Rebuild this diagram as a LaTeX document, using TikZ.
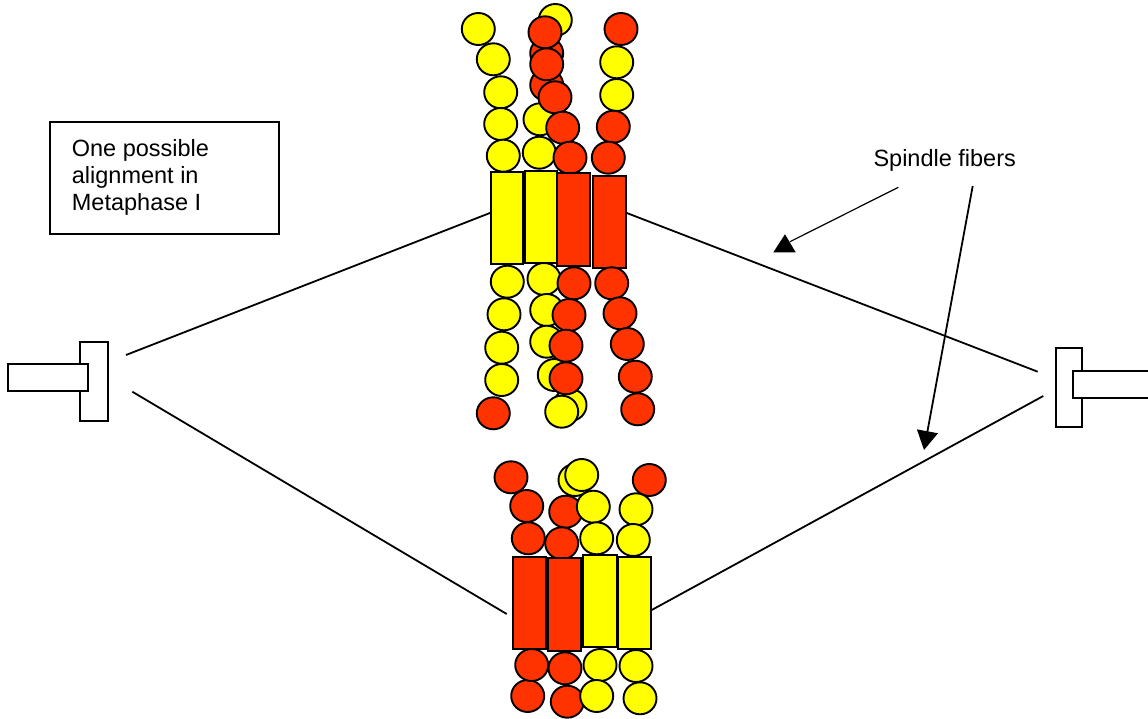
\documentclass[tikz,border=0pt]{standalone}
\usepackage{fontspec}
\setmainfont{Liberation Sans}
\usetikzlibrary{arrows.meta}
\definecolor{chromred}{HTML}{FF3300}
\definecolor{chromyellow}{HTML}{FFFF00}
\tikzset{
  bead/.style={draw=black, line width=1.9pt},
  arm/.style={draw=black, line width=1.9pt},
  fiber/.style={draw=black, line width=1.8pt},
  pole/.style={draw=black, fill=white, line width=1.8pt},
  pointer/.style={draw=black, line width=1.2pt},
  labeltext/.style={font=\fontsize{23.5}{26.8}\selectfont, inner sep=0pt, align=left}
}
% one bead of a chromatid: colour, x, y
\newcommand\beadat[3]{\path[bead, fill=#1] (#2,#3) ellipse [x radius=16.5pt, y radius=16pt];}
% one centromere block: colour, x1, y1, x2, y2
\newcommand\blockat[5]{\path[arm, fill=#1] (#2,#3) rectangle (#4,#5);}
\begin{document}
\begin{tikzpicture}[x=1pt, y=-1pt]
\useasboundingbox (0,0) rectangle (1148,719);
\fill[white] (0,0) rectangle (1148,719);

% label box (the node is anchored on the baseline of its last line)
\draw[line width=1.8pt] (50,121.7) rectangle (279.3,234);
\node[labeltext, anchor=base west] (caption) at (71.7,210.3)
  {One possible\\alignment in\\Metaphase I};

% spindle poles
\draw[pole] (80,341.7) rectangle (107.7,420.7);
\draw[pole] (8.3,364) rectangle (87.7,391);
\draw[pole] (1055.7,347.7) rectangle (1082.3,427.3);
\draw[pole] (1072.7,370.7) rectangle (1160,397.7);

% fiber end points
\coordinate (lpTop) at (126,355);
\coordinate (lpBot) at (132.3,391.7);
\coordinate (rpTop) at (1037.7,371.7);
\coordinate (rpBot) at (1043.3,396);
\coordinate (topL) at (490.7,212.7);
\coordinate (topR) at (626,212.7);
\coordinate (botL) at (506.7,614);
\coordinate (botR) at (651.7,610);

% spindle fibers
\draw[fiber] (lpTop) -- (topL);
\draw[fiber] (lpBot) -- (botL);
\draw[fiber] (topR) -- (rpTop);
\draw[fiber] (botR) -- (rpBot);

% upper pair of homologues: beads above the centromeres
\beadat{chromyellow}{478.3}{29}
\beadat{chromyellow}{493.3}{59.3}
\beadat{chromyellow}{500.7}{92.3}
\beadat{chromyellow}{500.7}{124}
\beadat{chromyellow}{503.3}{155.7}
\beadat{chromyellow}{555.3}{20}
\beadat{chromyellow}{540}{119.3}
\beadat{chromyellow}{539.3}{152.7}
\beadat{chromred}{546.7}{85}
\beadat{chromred}{546.7}{53.3}
\beadat{chromred}{545}{32.3}
\beadat{chromred}{546.7}{64.3}
\beadat{chromred}{555}{97.3}
\beadat{chromred}{562.7}{127.7}
\beadat{chromred}{570}{157.7}
\beadat{chromred}{621}{29}
\beadat{chromyellow}{616.7}{62.3}
\beadat{chromyellow}{616.7}{95}
\beadat{chromred}{613.3}{126.7}
\beadat{chromred}{608.3}{157.7}

% upper centromeres
\blockat{chromyellow}{490.7}{172.3}{523.3}{264}
\blockat{chromyellow}{525}{171}{557.3}{262.7}
\blockat{chromred}{557.3}{173.3}{590}{265.7}
\blockat{chromred}{592.7}{176}{625.7}{268.3}

% upper pair: beads below the centromeres
\beadat{chromyellow}{507.3}{281.7}
\beadat{chromyellow}{504}{314.3}
\beadat{chromyellow}{501.7}{347.7}
\beadat{chromyellow}{501.7}{380}
\beadat{chromred}{493.3}{413.3}
\beadat{chromyellow}{544}{279}
\beadat{chromyellow}{546.7}{310}
\beadat{chromyellow}{546.7}{341.7}
\beadat{chromyellow}{554.3}{375}
\beadat{chromyellow}{570}{405}
\beadat{chromyellow}{561.7}{411.7}
\beadat{chromred}{574}{283.3}
\beadat{chromred}{569}{315}
\beadat{chromred}{566}{345.7}
\beadat{chromred}{566}{378.3}
\beadat{chromred}{611.7}{283.3}
\beadat{chromred}{620}{313.3}
\beadat{chromred}{627.3}{344}
\beadat{chromred}{635.3}{376.7}
\beadat{chromred}{637.7}{409.3}

% lower pair of homologues: beads above the centromeres
\beadat{chromred}{511}{477.3}
\beadat{chromyellow}{575}{480}
\beadat{chromyellow}{581.7}{475}
\beadat{chromred}{649.3}{480}
\beadat{chromred}{526.7}{506}
\beadat{chromred}{565.7}{511.7}
\beadat{chromyellow}{593.3}{506.7}
\beadat{chromyellow}{636}{509.3}
\beadat{chromred}{528.3}{538.3}
\beadat{chromred}{561.7}{543.3}
\beadat{chromyellow}{596.7}{538.3}
\beadat{chromyellow}{633.3}{540}

% lower centromeres
\blockat{chromred}{512.7}{556.7}{546}{649.3}
\blockat{chromred}{548.3}{558.3}{581}{651}
\blockat{chromyellow}{582.7}{555}{616.7}{646.7}
\blockat{chromyellow}{617.7}{556.7}{651}{649.3}

% lower pair: beads below the centromeres
\beadat{chromred}{527.7}{696}
\beadat{chromred}{531.7}{665}
\beadat{chromred}{567.3}{701.7}
\beadat{chromred}{565}{668.3}
\beadat{chromyellow}{600}{665}
\beadat{chromyellow}{596.7}{696}
\beadat{chromyellow}{636}{666}
\beadat{chromyellow}{640}{698.3}

% spindle fiber label and its pointers
\node[labeltext, anchor=base west] (spindle) at (873.3,166.7) {Spindle fibers};
\coordinate (ptrA) at (898.3,187.3);
\coordinate (ptrAend) at (790,241.7);
\coordinate (ptrB) at (972.7,186);
\coordinate (ptrBend) at (924,450);
\draw[pointer] (ptrA) -- (ptrAend);
\fill[black] (773.3,252.3) -- (795.7,252.3) -- (785,234.3) -- cycle;
\draw[black, line width=1.8pt, -{Triangle[length=19pt, width=21pt]}] (ptrB) -- (ptrBend);
\end{tikzpicture}
\end{document}
